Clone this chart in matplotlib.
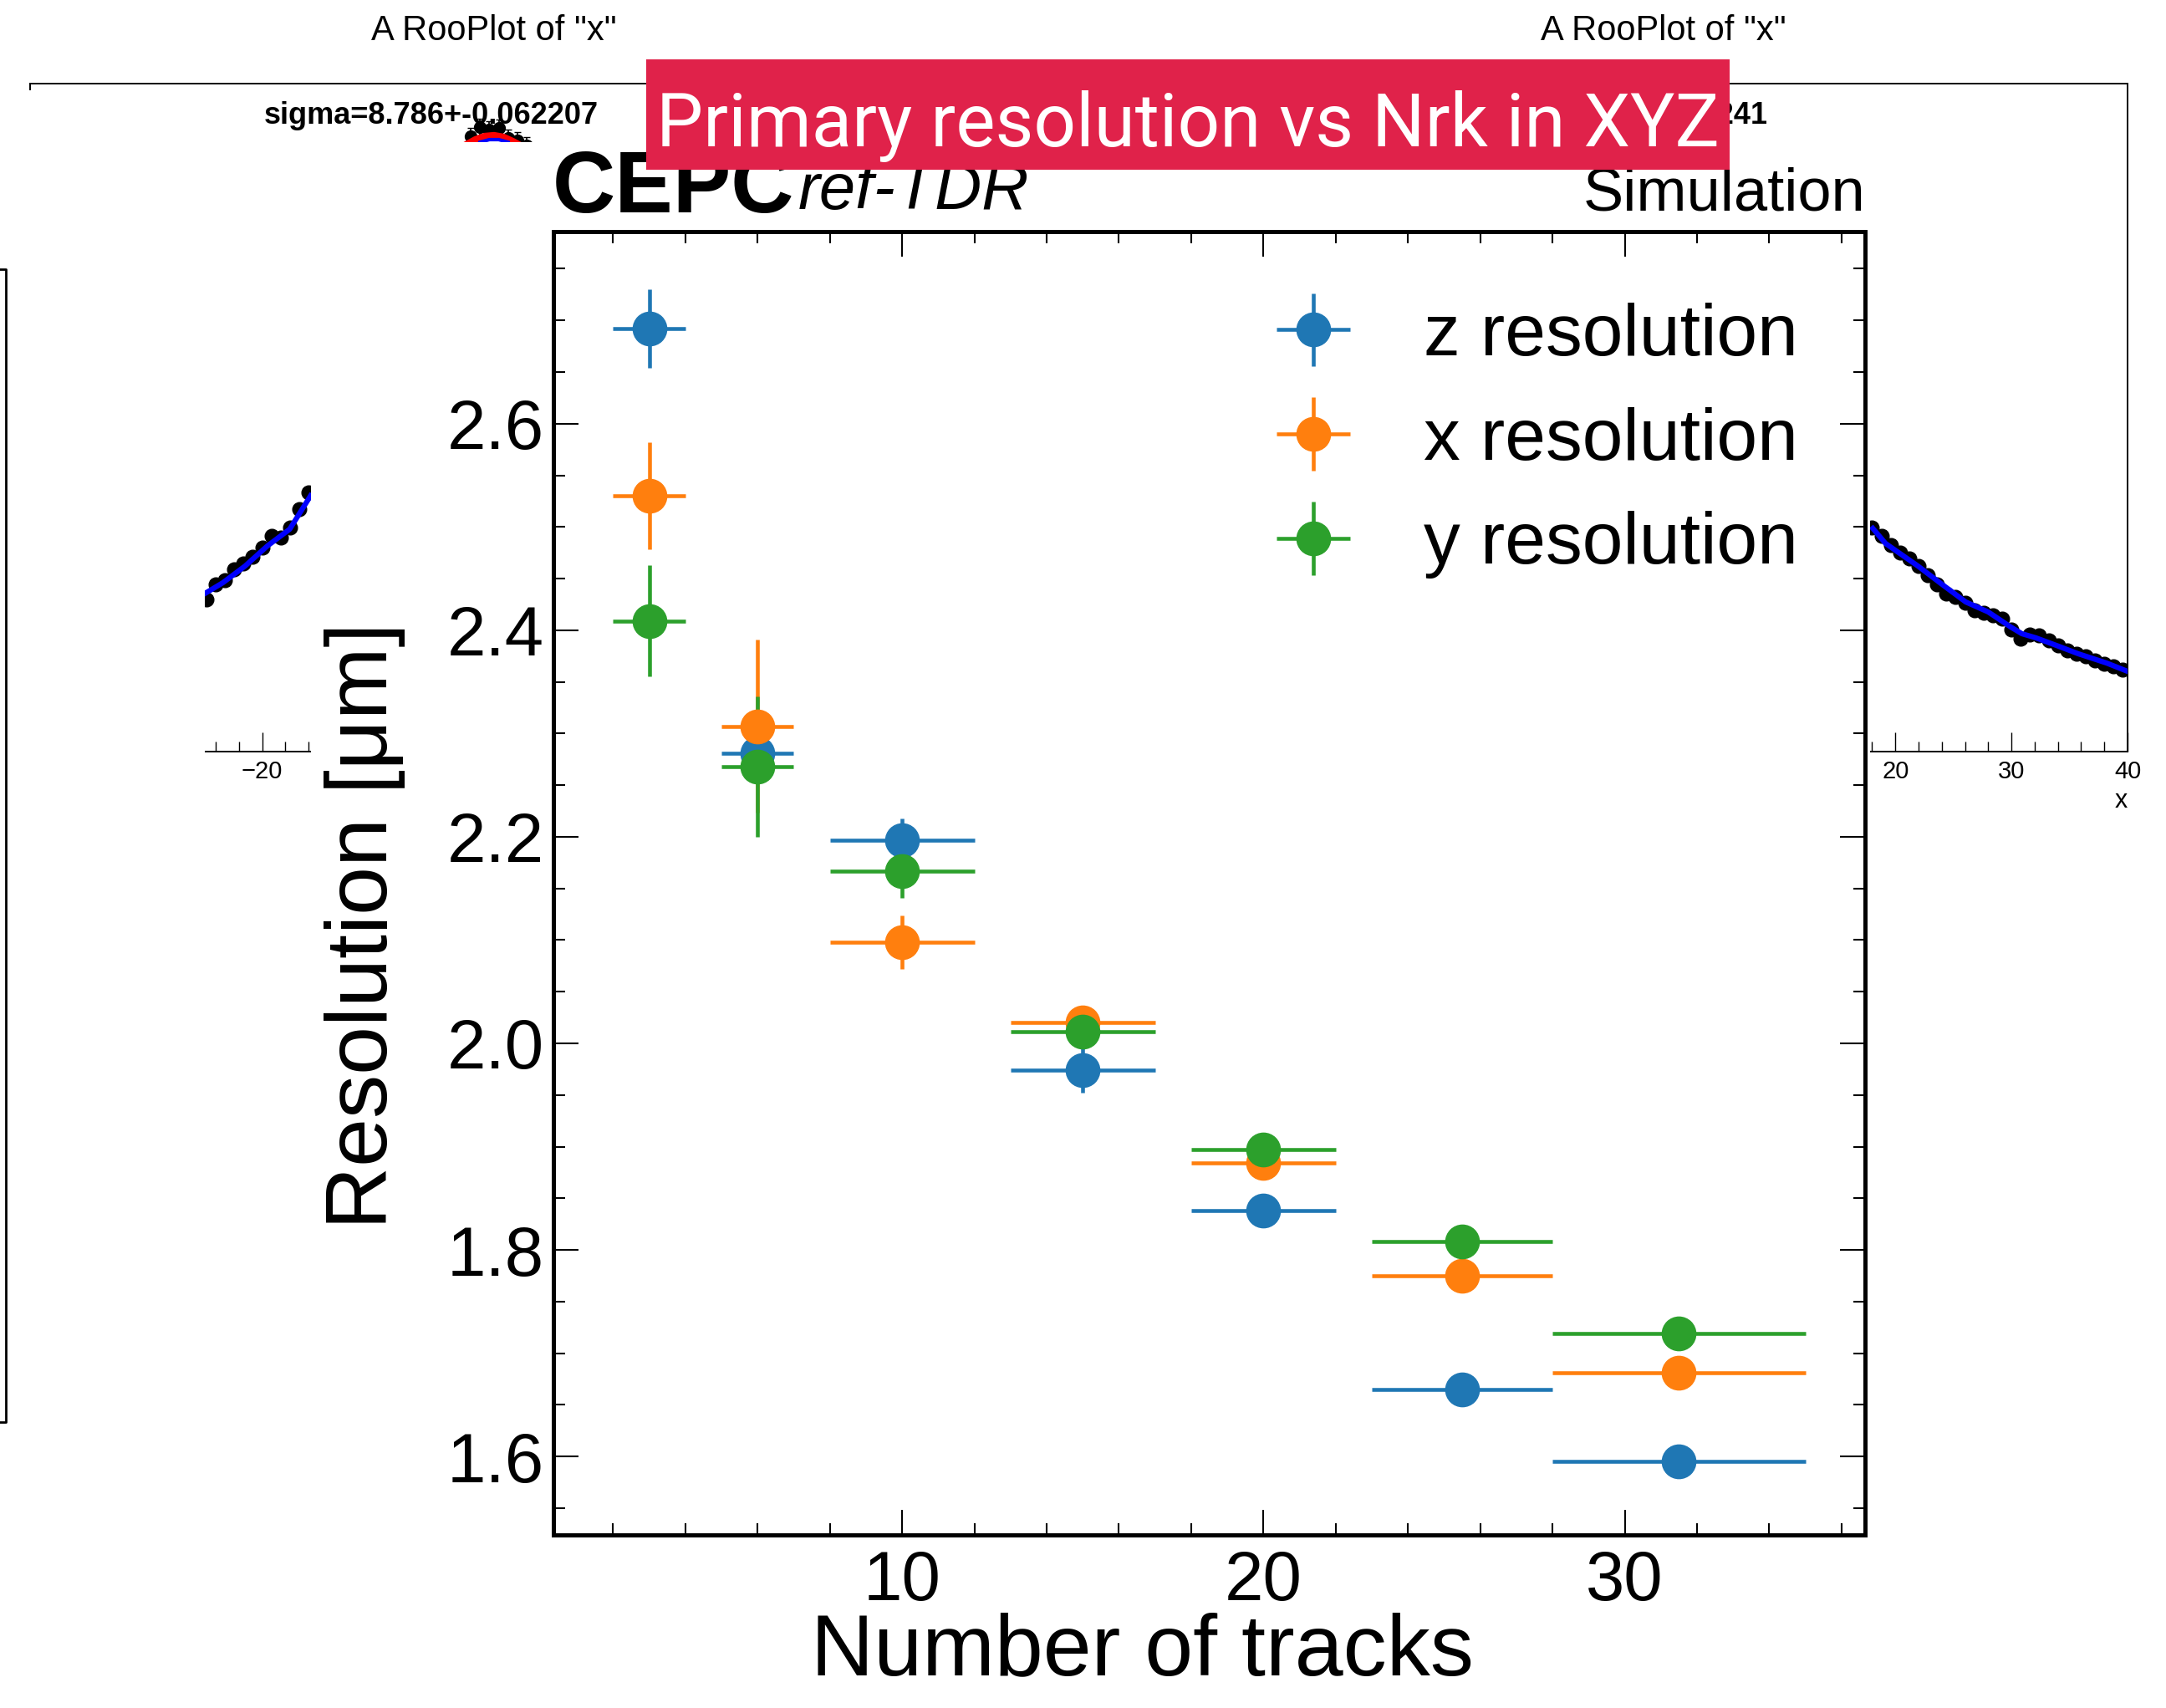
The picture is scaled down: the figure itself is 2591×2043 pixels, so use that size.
import matplotlib
matplotlib.use("Agg")
import matplotlib.pyplot as plt
from matplotlib.patches import Rectangle
from matplotlib.lines import Line2D
from matplotlib.ticker import MultipleLocator

plt.rcParams['font.family'] = ['Liberation Sans', 'DejaVu Sans']

W, H = 2591, 2043

# ---- main chart: resolution vs number of tracks ----
n_tracks = [3, 6, 10, 15, 20, 25.5, 31.5]
n_tracks_err = [1, 1, 2, 2, 2, 2.5, 3.5]

z_res = [2.692, 2.281, 2.197, 1.974, 1.838, 1.665, 1.595]
z_err = [0.038, 0.012, 0.021, 0.022, 0.012, 0.010, 0.014]
x_res = [2.530, 2.307, 2.098, 2.020, 1.884, 1.775, 1.681]
x_err = [0.052, 0.084, 0.026, 0.012, 0.010, 0.010, 0.010]
y_res = [2.409, 2.268, 2.167, 2.011, 1.897, 1.808, 1.719]
y_err = [0.054, 0.068, 0.026, 0.012, 0.010, 0.010, 0.010]

# ---- RooPlot fragments in the background ----
pad_ticks = [-40, -30, -20, -10, 0, 10, 20, 30, 40]
left_shown = [-20]
right_shown = [20, 30, 40]

left_x = [-24.8, -24.0, -23.2, -22.4, -21.6, -20.8, -20.0, -19.2, -18.4, -17.6, -16.8, -16.0]
left_n = [182, 200, 205, 218, 225, 233, 244, 258, 256, 268, 290, 310]
left_fit_x = [-24.94, -23.38, -21.46, -19.54, -17.62, -15.82]
left_fit_n = [189, 202, 222, 246, 266, 306]

peak_x = [-2.0, -1.2, -0.4, 0.4, 1.2, 2.0, 2.8]
peak_n = [736, 747, 744, 746, 734, 731, 725]
peak_red_x = [-2.4, -1.6, -0.8, 0.0, 0.8, 1.6, 2.4]
peak_red_n = [726, 732, 736, 737, 735, 730, 724]
peak_blue_x = [-1.2, -0.4, 0.4, 1.2]
peak_blue_n = [729, 732, 732, 729]

right_x = [18.0, 18.8, 19.6, 20.4, 21.2, 22.0, 22.8, 23.6, 24.4, 25.2, 26.0, 26.8, 27.6, 28.4,
           29.2, 30.0, 30.8, 31.6, 32.4, 33.2, 34.0, 34.8, 35.6, 36.4, 37.2, 38.0, 38.8, 39.6]
right_n = [268, 258, 247, 238, 231, 222, 211, 200, 189, 185, 178, 169, 166, 163,
           159, 146, 135, 140, 139, 133, 127, 121, 117, 114, 109, 105, 102, 98]
right_fit_x = [18.06, 19.15, 21.94, 24.12, 26.06, 28.0, 29.94, 30.9, 32.12, 34.06, 35.76, 38.18, 40.0]
right_fit_n = [267, 249, 222, 199, 179, 167, 149, 141, 136, 126, 117, 106, 96]


def fx(px):
    return px / W


def fy(py):
    return 1 - py / H


fig = plt.figure(figsize=(W / 100, H / 100), dpi=100)
fig.patch.set_facecolor('white')


def make_pad(x0, x1, title, sigma_text, shown):
    pad = fig.add_axes([fx(x0), fy(899), fx(x1) - fx(x0), fy(100) - fy(899)])
    pad.set_zorder(0)
    pad.set_xlim(-40, 40)
    pad.set_ylim(0, 799)
    for s in pad.spines.values():
        s.set_linewidth(1.4)
    pad.set_xticks(pad_ticks)
    pad.set_xticklabels([("−%d" % -t if t < 0 else "%d" % t) if t in shown else "" for t in pad_ticks])
    pad.xaxis.set_minor_locator(MultipleLocator(2))
    pad.tick_params(which='both', direction='in', top=False, right=False, labelleft=False)
    pad.tick_params(which='major', length=16.6, width=1, labelsize=21, pad=7)
    pad.tick_params(which='minor', length=9, width=1)
    pad.set_xlabel("x", fontsize=22, loc='right')
    pad.xaxis.set_label_coords(1.0, -0.055)
    pad.text(0.5, 1.065, title, transform=pad.transAxes, ha='center', va='baseline',
             fontsize=30, clip_on=False)
    pad.text(0.4324, 0.94, sigma_text, transform=pad.transAxes, ha='center', va='baseline',
             fontsize=26, fontweight='bold')
    return pad


lpad = make_pad(36, 1146, 'A RooPlot of "x"', "sigma=8.786+-0.062207", left_shown)
lpad.xaxis.label.set_visible(False)
lpad.errorbar(left_x, left_n, yerr=6, fmt='o', color='black', ms=12, elinewidth=1.2, capsize=2)
lpad.plot(left_fit_x, left_fit_n, color='blue', lw=4.5, zorder=3)
lpad.errorbar(peak_x, peak_n, yerr=10, fmt='o', color='black', ms=10, elinewidth=1.2, capsize=3)
lpad.plot(peak_red_x, peak_red_n, color='red', lw=6, zorder=3)
lpad.plot(peak_blue_x, peak_blue_n, color='blue', lw=3, zorder=3)

rpad = make_pad(1434, 2545, 'A RooPlot of "x"', "sigma=8.799+-0.062241", right_shown)
rpad.errorbar(right_x, right_n, yerr=6, fmt='o', color='black', ms=12, elinewidth=1.2, capsize=2)
rpad.plot(right_fit_x, right_fit_n, color='blue', lw=4.5, zorder=3)

# white areas of the pasted images on top of the pads
fig.add_artist(Rectangle((fx(0), fy(2043)), fx(245), fy(108) - fy(2043), transform=fig.transFigure,
                         facecolor='white', edgecolor='none', zorder=1))
fig.add_artist(Rectangle((fx(372), fy(2043)), fx(2237) - fx(372), fy(170) - fy(2043),
                         transform=fig.transFigure, facecolor='white', edgecolor='none', zorder=1))
fig.add_artist(Line2D([fx(0), fx(7), fx(7), fx(0)], [fy(322), fy(322), fy(1701), fy(1701)],
                      transform=fig.transFigure, color='black', lw=2, zorder=1.5))

# ---- main axes ----
ax = fig.add_axes([fx(662), fy(1836), fx(2231) - fx(662), fy(277) - fy(1836)])
ax.set_zorder(2)
ax.set_facecolor('white')

series = [(z_res, z_err, '#1f77b4', 'z resolution'),
          (x_res, x_err, '#ff7f0e', 'x resolution'),
          (y_res, y_err, '#2ca02c', 'y resolution')]
for vals, errs, col, lab in series:
    ax.errorbar(n_tracks, vals, xerr=n_tracks_err, yerr=errs, fmt='o', color=col,
                ms=29, elinewidth=3.3, capsize=0, label=lab)

ax.set_xlim(0.35, 36.65)
ax.set_ylim(1.524, 2.786)
ax.xaxis.set_major_locator(MultipleLocator(10))
ax.xaxis.set_minor_locator(MultipleLocator(2))
ax.yaxis.set_major_locator(MultipleLocator(0.2))
ax.yaxis.set_minor_locator(MultipleLocator(0.05))
for s in ax.spines.values():
    s.set_linewidth(3.6)
ax.tick_params(which='both', direction='in', top=True, right=True)
ax.tick_params(which='major', length=21.6, width=1.5, labelsize=60)
ax.tick_params(which='minor', length=10, width=1.5)
ax.tick_params(axis='x', which='major', pad=12)
ax.tick_params(axis='y', which='major', pad=8)

ax.set_xlabel("Number of tracks", fontsize=75)
ax.xaxis.set_label_coords(0.4487, -0.059)
ax.set_ylabel("Resolution [μm]", fontsize=75)
ax.yaxis.set_label_coords(-0.1128, 0.4676)

ax.legend(loc='upper left', bbox_to_anchor=(fx(1501), fy(362)), bbox_transform=fig.transFigure,
          frameon=False, fontsize=63, handlelength=1.6, handletextpad=0.71, labelspacing=0.5,
          borderpad=0, borderaxespad=0)

fig.text(fx(661), fy(254), "CEPC", fontsize=75, fontweight='bold', va='baseline', zorder=3)
fig.text(fx(955), fy(250), "ref-TDR", fontsize=56, fontstyle='italic', va='baseline', zorder=3)
fig.text(fx(2231), fy(252), "Simulation", fontsize=52, ha='right', va='baseline', zorder=3)

# ---- title banner ----
fig.add_artist(Rectangle((fx(773), fy(203)), fx(2069) - fx(773), fy(71) - fy(203),
                         transform=fig.transFigure, facecolor='#E0224A', edgecolor='none', zorder=4))
fig.text(fx(1421), fy(175), "Primary resolution vs Nrk in XYZ", color='white', fontsize=64,
         family=['Roboto', 'DejaVu Sans'], ha='center', va='baseline', zorder=5)

fig.savefig("out.png", dpi=100, facecolor='white')
